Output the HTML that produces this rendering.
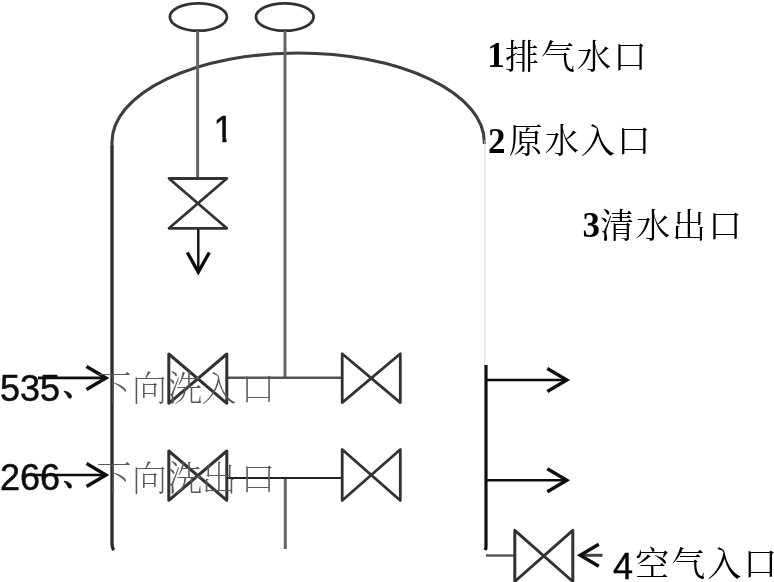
<!DOCTYPE html>
<html lang="zh">
<head>
<meta charset="utf-8">
<title>过滤器示意图</title>
<style>
html,body{margin:0;padding:0;background:#fff;}
body{width:774px;height:582px;overflow:hidden;position:relative;}
svg{position:absolute;left:0;top:0;display:block;}
.sans{font-family:"Liberation Sans","Noto Serif CJK SC",sans-serif;}
.serifb{font-family:"Liberation Serif","Noto Serif CJK SC",serif;font-weight:bold;}
.cjk{font-family:"Liberation Serif","Noto Serif CJK SC",serif;font-weight:400;}
.cjkl{font-family:"Liberation Serif","Noto Serif CJK SC",serif;font-weight:200;}
</style>
</head>
<body>
<svg width="774" height="582" viewBox="0 0 774 582">
  <defs>
    <filter id="soft" x="-5%" y="-5%" width="110%" height="110%" filterUnits="userSpaceOnUse" primitiveUnits="userSpaceOnUse"><feGaussianBlur stdDeviation="0.7"/></filter>
    <clipPath id="c1"><path d="M205 100 H240 V137 H226.550 V150 H222.350 V137 H205 Z"/></clipPath>
  </defs>
  <rect width="774" height="582" fill="#fff"/>

  <g id="lines" filter="url(#soft)" fill="none" stroke="#333" stroke-linecap="butt" stroke-linejoin="miter">
    <!-- tank outline -->
    <path d="M114 550 Q112 548 112 543 L112 146" stroke-width="3.300" stroke="#2c2c2c"/>
    <path d="M112 148 L112 142 A186 89 0 0 1 484.300 142 L484.300 144" stroke-width="3.100" stroke="#3c3c3c"/>
    <path d="M484.800 140 L484.800 365" stroke-width="1" stroke="#d4d4d4"/>
    <path d="M486 365 L486 548 L485 550" stroke-width="3.200" stroke="#111"/>
    <!-- ellipses -->
    <ellipse cx="198.400" cy="17" rx="28.500" ry="13.700" stroke-width="2.800"/>
    <ellipse cx="284.800" cy="17" rx="28.800" ry="13.700" stroke-width="2.800"/>
    <!-- pipes -->
    <path d="M197.600 31 L197.600 178" stroke-width="3" stroke="#666"/>
    <path d="M285 31 L285 378" stroke-width="3" stroke="#666"/>
    <path d="M285.300 478 L285.300 549" stroke-width="3" stroke="#666"/>
    <path d="M227 377.800 L342 377.800" stroke-width="2.600" stroke="#555"/>
    <path d="M227 478 L342 478" stroke-width="2" stroke="#222"/>
    <!-- valve 1 (vertical) -->
    <path d="M169 178.500 L226.800 178.500 L169 228.300 L226.800 228.300 Z" stroke-width="2.800" stroke-linejoin="round"/>
    <!-- arrow down -->
    <path d="M198.300 229 L198.300 270" stroke-width="2.400" stroke="#111"/>
    <path d="M187.300 252.500 L198.300 272 L209.300 252.500" stroke-width="3.400" stroke="#111"/>
    <!-- row valves -->
    <path d="M168.800 354 L168.800 403.300 L226.800 354 L226.800 403.300 Z" stroke-width="3" stroke-linejoin="round"/>
    <path d="M342.200 353.800 L342.200 402.600 L400.300 353.800 L400.300 402.600 Z" stroke-width="2.800" stroke-linejoin="round"/>
    <path d="M168.800 451 L168.800 500.300 L226.800 451 L226.800 500.300 Z" stroke-width="3" stroke-linejoin="round"/>
    <path d="M342.200 449.500 L342.200 500.500 L400.300 449.500 L400.300 500.500 Z" stroke-width="2.800" stroke-linejoin="round"/>
    <!-- left arrows -->
    <path d="M38 377.800 L104 377.800" stroke-width="2.700" stroke="#111"/>
    <path d="M86.500 366.500 L106 378 L86.500 389.500" stroke-width="3.400" stroke="#111"/>
    <path d="M25 475 L104 475" stroke-width="2.700" stroke="#111"/>
    <path d="M86.500 463.500 L106 475 L86.500 486.500" stroke-width="3.400" stroke="#111"/>
    <!-- right arrows -->
    <path d="M487 380 L566 380" stroke-width="2.600" stroke="#111"/>
    <path d="M547.300 368.500 L566.800 380 L547.300 391.500" stroke-width="3.400" stroke="#111"/>
    <path d="M487 480.300 L566 480.300" stroke-width="2.600" stroke="#111"/>
    <path d="M547.300 468.800 L566.800 480.300 L547.300 491.800" stroke-width="3.400" stroke="#111"/>
    <!-- bottom valve -->
    <path d="M486 555.500 L515 555.500" stroke-width="2.400" stroke="#555"/>
    <path d="M514.800 530.300 L514.800 581.500 L572.800 530.300 L572.800 581.500 Z" stroke-width="3" stroke-linejoin="round"/>
    <path d="M602.500 555.300 L583 555.300" stroke-width="3" stroke="#444"/>
    <path d="M598.800 544.300 L580.200 555.300 L598.800 566.300" stroke-width="3.400" stroke="#111"/>
  </g>

  <!-- labels -->
  <g id="labels" filter="url(#soft)" fill="#000">
  <text id="t1" class="sans" x="213.500" y="142.300" font-size="36" fill="#111" stroke="#111" stroke-width="0.500" clip-path="url(#c1)">1</text>
  <text id="t5" font-size="36"><tspan class="sans" x="0" y="400.500" fill="#111" stroke="#111" stroke-width="0.500">535</tspan><tspan class="sans" font-size="28" dx="3" dy="-4.500" font-weight="700" fill="#111" stroke="#111" stroke-width="0.500">、</tspan><tspan class="cjkl" font-size="35" fill="#5a5a5a" x="96.500 132 167.500 201.500 240.500" y="400.500">下向洗入口</tspan></text>
  <text id="t6" font-size="36"><tspan class="sans" x="0" y="490" fill="#111" stroke="#111" stroke-width="0.500">266</tspan><tspan class="sans" font-size="28" dx="3" dy="-4.500" font-weight="700" fill="#111" stroke="#111" stroke-width="0.500">、</tspan><tspan class="cjkl" font-size="35" fill="#5a5a5a" x="96.500 132 167.500 201.500 240.500" y="490.500">下向洗出口</tspan></text>
  <text id="l1" font-size="35"><tspan class="serifb" x="487.200" y="66.500">1</tspan><tspan class="cjk" x="505" y="69.200" font-size="34" letter-spacing="2">排气水口</tspan></text>
  <text id="l2" font-size="35"><tspan class="serifb" x="488" y="152.600">2</tspan><tspan class="cjk" x="508.700" y="152.600" font-size="34" letter-spacing="2">原水入口</tspan></text>
  <text id="l3" font-size="35"><tspan class="serifb" x="582.400" y="237">3</tspan><tspan class="cjk" x="600" y="238" font-size="34" letter-spacing="2">清水出口</tspan></text>
  <text id="l4" font-size="36"><tspan class="sans" x="613" y="579" stroke="#000" stroke-width="0.400">4</tspan><tspan class="cjk" x="635.200" y="575.800" font-size="34" letter-spacing="2">空气入口</tspan></text>
  </g>
</svg>
</body>
</html>
